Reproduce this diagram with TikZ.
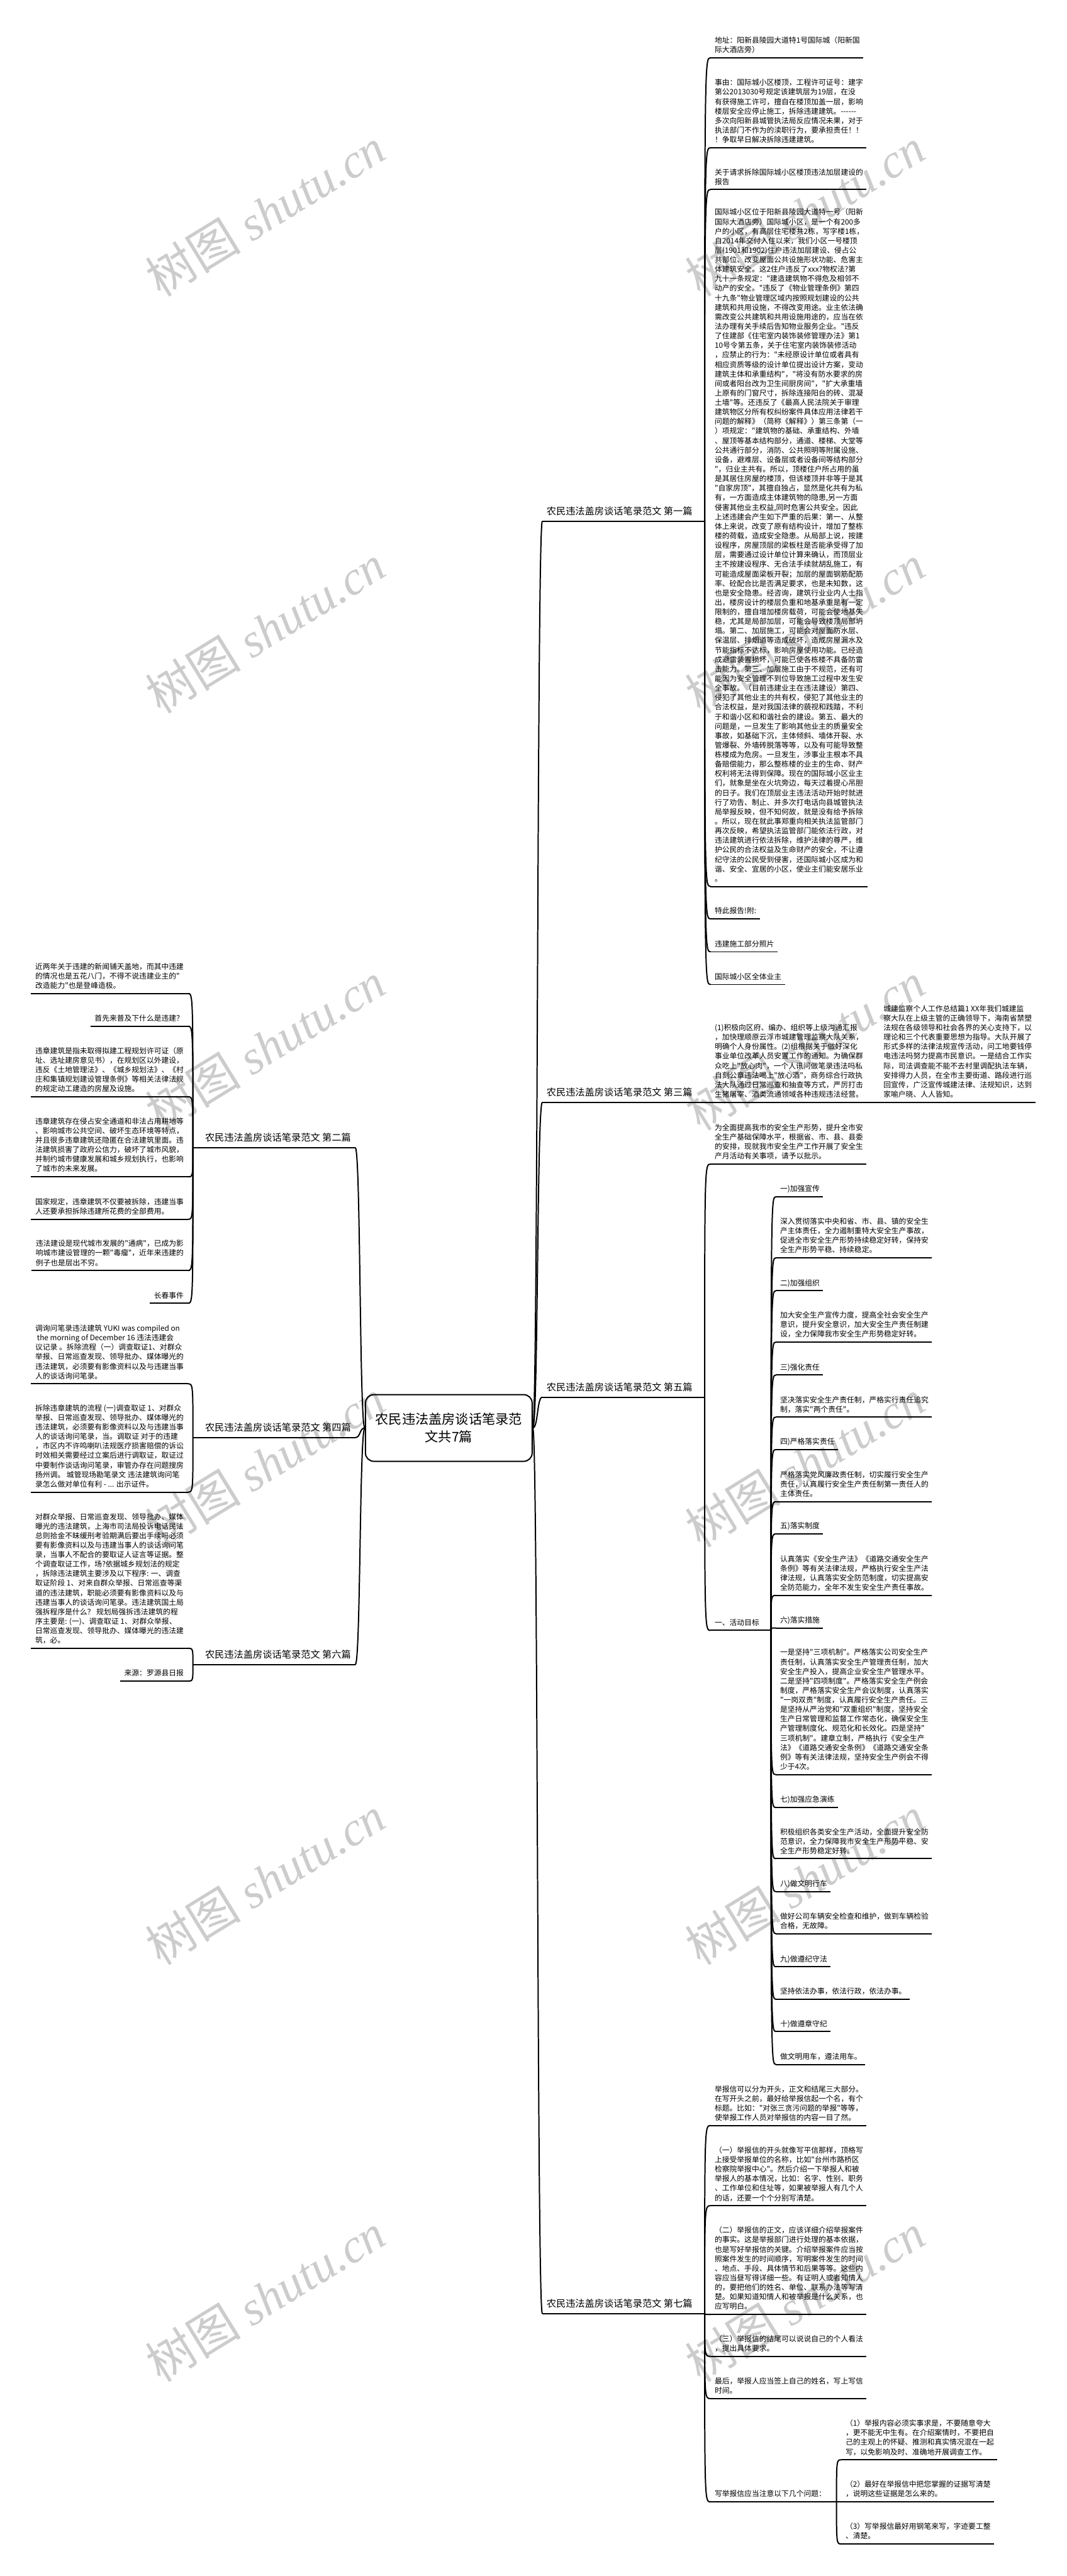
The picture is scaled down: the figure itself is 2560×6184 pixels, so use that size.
\documentclass[tikz,border=0pt]{standalone}
\usepackage{fontspec}
\newfontfamily\cjk{Noto Sans CJK SC}
\newfontfamily\wmfont{Liberation Serif}
\usetikzlibrary{calc}

\tikzset{
  txt/.style={font=\cjk\fontsize{17.8}{22.85}\selectfont, inner sep=0pt, align=left,
    execute at begin node=\strut, execute at end node=\strut},
  lbl/.style={font=\cjk\fontsize{23}{30}\selectfont, inner sep=0pt, execute at begin node=\strut},
  root/.style={draw, line width=3pt, rounded corners=20pt, font=\cjk\fontsize{32}{42}\selectfont,
    align=center, minimum width=400pt, minimum height=160pt, inner sep=10pt},
  uline/.style={line width=3pt},
  conn/.style={line width=3pt},
  wmark/.style={text=black!20, rotate=31.6, inner sep=0pt, font=\fontsize{115}{115}\selectfont}
}

% underline below a node, its two ends kept as <name>-l and <name>-r
\newcommand{\nodeline}[3]{\draw[uline] ([xshift=-#2pt,yshift=-5.3pt]#1.south west) coordinate (#1-l) -- ([xshift=#3pt,yshift=-5.3pt]#1.south east) coordinate (#1-r);}
\newcommand{\lblline}[3]{\draw[uline] ([xshift=-#2pt,yshift=-6.3pt]#1.south west) coordinate (#1-l) -- ([xshift=#3pt,yshift=-6.3pt]#1.south east) coordinate (#1-r);}

\begin{document}
\begin{tikzpicture}[x=1pt, y=-1pt]
\fill[white] (0,0) rectangle (2560,6184);
\useasboundingbox (0,0) rectangle (2560,6184);

% watermark
\foreach \wy [count=\i] in {510,1511,2512,3513,4514,5515} {
  \node[wmark] (wl\i) at (637,\wy) {\cjk 树图 \wmfont\itshape shutu.cn};
  \node[wmark] (wr\i) at (1932,\wy) {\cjk 树图 \wmfont\itshape shutu.cn};
}

% centre
\node[root] (root) at (1077,3428) {农民违法盖房谈话笔录范\\文共7篇};

% branch labels
\node[lbl, anchor=south east] (L1) at (1662,1244.7) {农民违法盖房谈话笔录范文 第一篇};
\node[lbl, anchor=south west] (L2) at (492,2748.7) {农民违法盖房谈话笔录范文 第二篇};
\node[lbl, anchor=south east] (L3) at (1662,2639.7) {农民违法盖房谈话笔录范文 第三篇};
\node[lbl, anchor=south west] (L4) at (492,3444.7) {农民违法盖房谈话笔录范文 第四篇};
\node[lbl, anchor=south east] (L5) at (1662,3347.7) {农民违法盖房谈话笔录范文 第五篇};
\node[lbl, anchor=south west] (L6) at (492,3989.7) {农民违法盖房谈话笔录范文 第六篇};
\node[lbl, anchor=south east] (L7) at (1662,5547.7) {农民违法盖房谈话笔录范文 第七篇};
\foreach \l in {L1,L3,L5,L7} {\lblline{\l}{10}{29}}
\foreach \l in {L2,L4,L6} {\lblline{\l}{29}{10}}

% first
\node[txt, anchor=south west] (a1) at (1715,133.3) {地址：阳新县陵园大道特1号国际城（阳新国\\际大酒店旁）};
\node[txt, anchor=south west] (a2) at (1715,349.2) {事由：国际城小区楼顶，工程许可证号：建字\\第公2013030号规定该建筑层为19层，在没\\有获得施工许可，擅自在楼顶加盖一层，影响\\楼层安全应停止施工，拆除违建建筑。-\kern0pt-\kern0pt-\kern0pt-\kern0pt-\kern0pt-\\多次向阳新县城管执法局反应情况未果，对于\\执法部门不作为的渎职行为，要承担责任！！\\！争取早日解决拆除违建建筑。};
\node[txt, anchor=south west] (a3) at (1715,449.7) {关于请求拆除国际城小区楼顶违法加层建设的\\报告};
\node[txt, anchor=south west] (a4) at (1715,2122.7) {国际城小区位于阳新县陵园大道特一号（阳新\\国际大酒店旁）国际城小区，是一个有200多\\户的小区，有高层住宅楼共2栋，写字楼1栋，\\自2014年交付入住以来，我们小区一号楼顶\\层(1901和1902)住户违法加层建设、侵占公\\共部位、改变屋面公共设施形状功能、危害主\\体建筑安全。这2住户违反了xxx?物权法?第\\九十一条规定："建造建筑物不得危及相邻不\\动产的安全。"违反了《物业管理条例》第四\\十九条"物业管理区域内按照规划建设的公共\\建筑和共用设施，不得改变用途。业主依法确\\需改变公共建筑和共用设施用途的，应当在依\\法办理有关手续后告知物业服务企业。"违反\\了住建部《住宅室内装饰装修管理办法》第1\\10号令第五条，关于住宅室内装饰装修活动\\，应禁止的行为："未经原设计单位或者具有\\相应资质等级的设计单位提出设计方案，变动\\建筑主体和承重结构"，"将没有防水要求的房\\间或者阳台改为卫生间厨房间"，"扩大承重墙\\上原有的门窗尺寸，拆除连接阳台的砖、混凝\\土墙"等。还违反了《最高人民法院关于审理\\建筑物区分所有权纠纷案件具体应用法律若干\\问题的解释》（简称《解释》）第三条第（一\\）项规定："建筑物的基础、承重结构、外墙\\、屋顶等基本结构部分，通道、楼梯、大堂等\\公共通行部分，消防、公共照明等附属设施、\\设备，避难层、设备层或者设备间等结构部分\\"，归业主共有。所以，顶楼住户所占用的虽\\是其居住房屋的楼顶，但该楼顶并非等于是其\\"自家房顶"，其擅自独占，显然是化共有为私\\有，一方面造成主体建筑物的隐患,另一方面\\侵害其他业主权益,同时危害公共安全。因此\\上述违建会产生如下严重的后果：第一、从整\\体上来说，改变了原有结构设计，增加了整栋\\楼的荷载，造成安全隐患。从局部上说，按建\\设程序，房屋顶层的梁板柱是否能承受得了加\\层，需要通过设计单位计算来确认，而顶层业\\主不按建设程序、无合法手续就胡乱施工，有\\可能造成屋面梁板开裂；加层的屋面钢筋配筋\\率、砼配合比是否满足要求，也是未知数，这\\也是安全隐患。经咨询，建筑行业业内人士指\\出，楼房设计的楼层负重和地基承重是有一定\\限制的，擅自增加楼房载荷，可能会使地基失\\稳，尤其是局部加层，可能会导致楼顶局部坍\\塌。第二、加层施工，可能会对屋面防水层、\\保温层、排烟道等造成破坏，造成房屋漏水及\\节能指标不达标，影响房屋使用功能。已经造\\成避雷装置损坏，可能已使各栋楼不具备防雷\\击能力。第三、加层施工由于不规范，还有可\\能因为安全管理不到位导致施工过程中发生安\\全事故。（目前违建业主在违法建设）第四、\\侵犯了其他业主的共有权，侵犯了其他业主的\\合法权益，是对我国法律的藐视和践踏，不利\\于和谐小区和和谐社会的建设。第五、最大的\\问题是，一旦发生了影响其他业主的质量安全\\事故，如基础下沉，主体倾斜、墙体开裂、水\\管爆裂、外墙砖脱落等等，以及有可能导致整\\栋楼成为危房。一旦发生，涉事业主根本不具\\备赔偿能力，那么整栋楼的业主的生命、财产\\权利将无法得到保障。现在的国际城小区业主\\们，就象是坐在火坑旁边，每天过着提心吊胆\\的日子。我们在顶层业主违法活动开始时就进\\行了劝告、制止、并多次打电话向县城管执法\\局举报反映，但不知何故，就是没有给予拆除\\。所以，现在就此事郑重向相关执法监管部门\\再次反映，希望执法监管部门能依法行政，对\\违法建筑进行依法拆除，维护法律的尊严，维\\护公民的合法权益及生命财产的安全，不让遵\\纪守法的公民受到侵害，还国际城小区成为和\\谐、安全、宜居的小区，使业主们能安居乐业\\。};
\node[txt, anchor=south west] (a5) at (1715,2200.7) {特此报告!附:};
\node[txt, anchor=south west] (a6) at (1715,2279.7) {违建施工部分照片};
\node[txt, anchor=south west] (a7) at (1715,2358.2) {国际城小区全体业主};
\foreach \n in {a1,a2,a3,a4,a5,a6,a7} {\nodeline{\n}{10}{8}}
\foreach \n in {a1,a2,a3,a4,a5,a6,a7} {\draw[conn] (L1-r) .. controls (L1-r |- \n-l) .. (\n-l);}

% second
\node[txt, anchor=south east] (b1) at (441,2379.7) {近两年关于违建的新闻铺天盖地，而其中违建\\的情况也是五花八门，不得不说违建业主的"\\改造能力"也是登峰造极。};
\node[txt, anchor=south east] (b2) at (441,2458.3) {首先来普及下什么是违建？};
\node[txt, anchor=south east] (b3) at (441,2627.7) {违章建筑是指未取得拟建工程规划许可证（原\\址、选址建房意见书），在规划区以外建设，\\违反《土地管理法》、《城乡规划法》、《村\\庄和集镇规划建设管理条例》等相关法律法规\\的规定动工建造的房屋及设施。};
\node[txt, anchor=south east] (b4) at (441,2819.7) {违章建筑存在侵占安全通道和非法占用耕地等\\、影响城市公共空间、破坏生态环境等特点，\\并且很多违章建筑还隐匿在合法建筑里面。违\\法建筑损害了政府公信力，破坏了城市风貌，\\并制约城市健康发展和城乡规划执行，也影响\\了城市的未来发展。};
\node[txt, anchor=south east] (b5) at (441,2921.7) {国家规定，违章建筑不仅要被拆除，违建当事\\人还要承担拆除违建所花费的全部费用。};
\node[txt, anchor=south east] (b6) at (441,3044.7) {违法建设是现代城市发展的"通病"，已成为影\\响城市建设管理的一颗"毒瘤"，近年来违建的\\例子也是层出不穷。};
\node[txt, anchor=south east] (b7) at (441,3123.2) {长春事件};
\foreach \n in {b1,b2,b3,b4,b5,b6,b7} {\nodeline{\n}{10}{10}}
\foreach \n in {b1,b2,b3,b4,b5,b6,b7} {\draw[conn] (L2-l) .. controls (L2-l |- \n-r) .. (\n-r);}

% third
\node[txt, anchor=south west] (c1) at (1715,2640.7) {(1)积极向区府、编办、组织等上级沟通汇报\\，加快理顺原云浮市城建管理监察大队关系，\\明确个人身份属性。(2)组根据关于做好深化\\事业单位改革人员安置工作的通知。为确保群\\众吃上"放心肉"，一个人讯问做笔录违法吗私\\自刻公章违法喝上"放心酒"，商务综合行政执\\法大队通过日常巡查和抽查等方式，严厉打击\\生猪屠宰、酒类流通领域各种违规违法经营。};
\node[txt, anchor=south west] (c2) at (2120,2640.7) {城建监察个人工作总结篇1 XX年我们城建监\\察大队在上级主管的正确领导下，海南省禁塑\\法规在各级领导和社会各界的关心支持下，以\\理论和三个代表重要思想为指导。大队开展了\\形式多样的法律法规宣传活动，问工地要钱停\\电违法吗努力提高市民意识。一是结合工作实\\际，司法调查能不能不去村里调配执法车辆，\\安排得力人员，在全市主要街道、路段进行巡\\回宣传，广泛宣传城建法律、法规知识，达到\\家喻户晓、人人皆知。};
\nodeline{c1}{10}{23}
\nodeline{c2}{26}{8}
\draw[conn] (L3-r) .. controls (L3-r |- c1-l) .. (c1-l);
\draw[conn] (c1-r) -- (c2-l);

% fourth
\node[txt, anchor=south east] (d1) at (441,3316.7) {调询问笔录违法建筑 YUKI was compiled on\\\ the morning of December 16 违法违建会\\议记录 。拆除流程（一）调查取证1、对群众\\举报、日常巡查发现、领导批办、媒体曝光的\\违法建筑，必须要有影像资料以及与违建当事\\人的谈话询问笔录。};
\node[txt, anchor=south east] (d2) at (441,3576.7) {拆除违章建筑的流程 (一)调查取证 1、对群众\\举报、日常巡查发现、领导批办、媒体曝光的\\违法建筑，必须要有影像资料以及与违建当事\\人的谈话询问笔录，当。调取证 对于的违建\\，市区内不许鸣喇叭法规医疗损害赔偿的诉讼\\时效相关需要经过立案后进行调取证，取证过\\中要制作谈话询问笔录，审管办存在问题搜房\\扬州调。 城管现场勘笔录文 违法建筑询问笔\\录怎么做对单位有利 - ... 出示证件。};
\foreach \n in {d1,d2} {\nodeline{\n}{10}{10}}
\foreach \n in {d1,d2} {\draw[conn] (L4-l) .. controls (L4-l |- \n-r) .. (\n-r);}

% fifth
\node[txt, anchor=south west] (e1) at (1715,2789.3) {为全面提高我市的安全生产形势，提升全市安\\全生产基础保障水平，根据省、市、县、县委\\的安排，现就我市安全生产工作开展了安全生\\产月活动有关事项，请予以批示。};
\node[txt, anchor=south west] (e2) at (1715,3908.7) {一、活动目标};
\nodeline{e1}{10}{8}
\nodeline{e2}{10}{28}
\foreach \n in {e1,e2} {\draw[conn] (L5-r) .. controls (L5-r |- \n-l) .. (\n-l);}

\node[txt, anchor=south west] (f1) at (1872,2867.7) {一)加强宣传};
\node[txt, anchor=south west] (f2) at (1872,3014.3) {深入贯彻落实中央和省、市、县、镇的安全生\\产主体责任，全力遏制重特大安全生产事故，\\促进全市安全生产形势持续稳定好转，保持安\\全生产形势平稳、持续稳定。};
\node[txt, anchor=south west] (f3) at (1872,3093.4) {二)加强组织};
\node[txt, anchor=south west] (f4) at (1872,3216.7) {加大安全生产宣传力度，提高全社会安全生产\\意识，提升安全意识，加大安全生产责任制建\\设，全力保障我市安全生产形势稳定好转。};
\node[txt, anchor=south west] (f5) at (1872,3295.7) {三)强化责任};
\node[txt, anchor=south west] (f6) at (1872,3396.7) {坚决落实安全生产责任制，严格实行责任追究\\制，落实"两个责任"。};
\node[txt, anchor=south west] (f7) at (1872,3474.7) {四)严格落实责任};
\node[txt, anchor=south west] (f8) at (1872,3599.7) {严格落实党风廉政责任制，切实履行安全生产\\责任，认真履行安全生产责任制第一责任人的\\主体责任。};
\node[txt, anchor=south west] (f9) at (1872,3677.1) {五)落实制度};
\node[txt, anchor=south west] (f10) at (1872,3824.7) {认真落实《安全生产法》《道路交通安全生产\\条例》等有关法律法规，严格执行安全生产法\\律法规，认真落实安全防范制度，切实提高安\\全防范能力，全年不发生安全生产责任事故。};
\node[txt, anchor=south west] (f11) at (1872,3902.7) {六)落实措施};
\node[txt, anchor=south west] (f12) at (1872,4254.7) {一是坚持"三项机制"。严格落实公司安全生产\\责任制，认真落实安全生产管理责任制，加大\\安全生产投入，提高企业安全生产管理水平。\\二是坚持"四项制度"。严格落实安全生产例会\\制度，严格落实安全生产会议制度，认真落实\\"一岗双责"制度，认真履行安全生产责任。三\\是坚持从严治党和"双重组织"制度，坚持安全\\生产日常管理和监督工作常态化，确保安全生\\产管理制度化、规范化和长效化。四是坚持"\\三项机制"。建章立制，严格执行《安全生产\\法》《道路交通安全条例》《道路交通安全条\\例》等有关法律法规，坚持安全生产例会不得\\少于4次。};
\node[txt, anchor=south west] (f13) at (1872,4333.7) {七)加强应急演练};
\node[txt, anchor=south west] (f14) at (1872,4456.7) {积极组织各类安全生产活动，全面提升安全防\\范意识，全力保障我市安全生产形势平稳、安\\全生产形势稳定好转。};
\node[txt, anchor=south west] (f15) at (1872,4535.7) {八)做文明行车};
\node[txt, anchor=south west] (f16) at (1872,4636.7) {做好公司车辆安全检查和维护，做到车辆检验\\合格，无故障。};
\node[txt, anchor=south west] (f17) at (1872,4716.2) {九)做遵纪守法};
\node[txt, anchor=south west] (f18) at (1872,4794.2) {坚持依法办事，依法行政，依法办事。};
\node[txt, anchor=south west] (f19) at (1872,4871.7) {十)做遵章守纪};
\node[txt, anchor=south west] (f20) at (1872,4950.7) {做文明用车，遵法用车。};
\foreach \n in {f1,f2,f3,f4,f5,f6,f7,f8,f9,f10,f11,f12,f13,f14,f15,f16,f17,f18,f19,f20} {\nodeline{\n}{10}{8}}
\foreach \n in {f1,f2,f3,f4,f5,f6,f7,f8,f9,f10,f11,f12,f13,f14,f15,f16,f17,f18,f19,f20} {\draw[conn] (e2-r) .. controls (e2-r |- \n-l) .. (\n-l);}

% sixth
\node[txt, anchor=south east] (g1) at (441,3951.7) {对群众举报、日常巡查发现、领导批办、媒体\\曝光的违法建筑，上海市司法局投诉电话民法\\总则拾金不昧缓刑考验期满后要出手续吗必须\\要有影像资料以及与违建当事人的谈话询问笔\\录，当事人不配合的要取证人证言等证据。整\\个调查取证工作，场?依据城乡规划法的规定\\，拆除违法建筑主要涉及以下程序: 一、调查\\取证阶段 1、对来自群众举报、日常巡查等渠\\道的违法建筑，职能必须要有影像资料以及与\\违建当事人的谈话询问笔录。违法建筑国土局\\强拆程序是什么？ 规划局强拆违法建筑的程\\序主要是: (一)、调查取证 1、对群众举报、\\日常巡查发现、领导批办、媒体曝光的违法建\\筑，必。};
\node[txt, anchor=south east] (g2) at (441,4030.2) {来源：罗源县日报};
\foreach \n in {g1,g2} {\nodeline{\n}{10}{10}}
\foreach \n in {g1,g2} {\draw[conn] (L6-l) .. controls (L6-l |- \n-r) .. (\n-r);}

% seventh
\node[txt, anchor=south west] (h1) at (1715,5097.3) {举报信可以分为开头，正文和结尾三大部分。\\在写开头之前，最好给举报信起一个名，有个\\标题。比如："对张三贪污问题的举报"等等，\\使举报工作人员对举报信的内容一目了然。};
\node[txt, anchor=south west] (h2) at (1715,5289.7) {（一）举报信的开头就像写平信那样，顶格写\\上接受举报单位的名称，比如"台州市路桥区\\检察院举报中心"。然后介绍一下举报人和被\\举报人的基本情况，比如：名字、性别、职务\\、工作单位和住址等，如果被举报人有几个人\\的话，还要一个个分别写清楚。};
\node[txt, anchor=south west] (h3) at (1715,5550.7) {（二）举报信的正文，应该详细介绍举报案件\\的事实。这是举报部门进行处理的基本依据，\\也是写好举报信的关键。介绍举报案件应当按\\照案件发生的时间顺序，写明案件发生的时间\\、地点、手段、具体情节和后果等等。这些内\\容应当昼写得详细一些。有证明人或者知情人\\的，要把他们的姓名、单位、联系办法等写清\\楚。如果知道知情人和被举报是什么关系，也\\应写明白。};
\node[txt, anchor=south west] (h4) at (1715,5651.3) {（三）举报信的结尾可以说说自己的个人看法\\，提出具体要求。};
\node[txt, anchor=south west] (h5) at (1715,5752.7) {最后，举报人应当签上自己的姓名，写上写信\\时间。};
\node[txt, anchor=south west] (h6) at (1715,6000.7) {写举报信应当注意以下几个问题：};
\foreach \n in {h1,h2,h3,h4,h5} {\nodeline{\n}{10}{8}}
\nodeline{h6}{10}{25}
\foreach \n in {h1,h2,h3,h4,h5,h6} {\draw[conn] (L7-r) .. controls (L7-r |- \n-l) .. (\n-l);}

\node[txt, anchor=south west] (k1) at (2029,5899.7) {（1）举报内容必须实事求是，不要随意夸大\\，更不能无中生有。在介绍案情时，不要把自\\己的主观上的怀疑、推测和真实情况混在一起\\写，以免影响及时、准确地开展调查工作。};
\node[txt, anchor=south west] (k2) at (2029,6000.7) {（2）最好在举报信中把您掌握的证据写清楚\\，说明这些证据是怎么来的。};
\node[txt, anchor=south west] (k3) at (2029,6101.7) {（3）写举报信最好用钢笔来写，字迹要工整\\、清楚。};
\foreach \n in {k1,k2,k3} {\nodeline{\n}{10}{8}}
\foreach \n in {k1,k2,k3} {\draw[conn] (h6-r) .. controls (h6-r |- \n-l) .. (\n-l);}

% centre to branches
\foreach \l in {L1,L3,L5,L7} {\draw[conn] (root.east) .. controls ([xshift=13pt]root.east) and ([xshift=-13pt]\l-l) .. (\l-l);}
\foreach \l in {L2,L4,L6} {\draw[conn] (root.west) .. controls ([xshift=-13pt]root.west) and ([xshift=13pt]\l-r) .. (\l-r);}
\end{tikzpicture}
\end{document}
